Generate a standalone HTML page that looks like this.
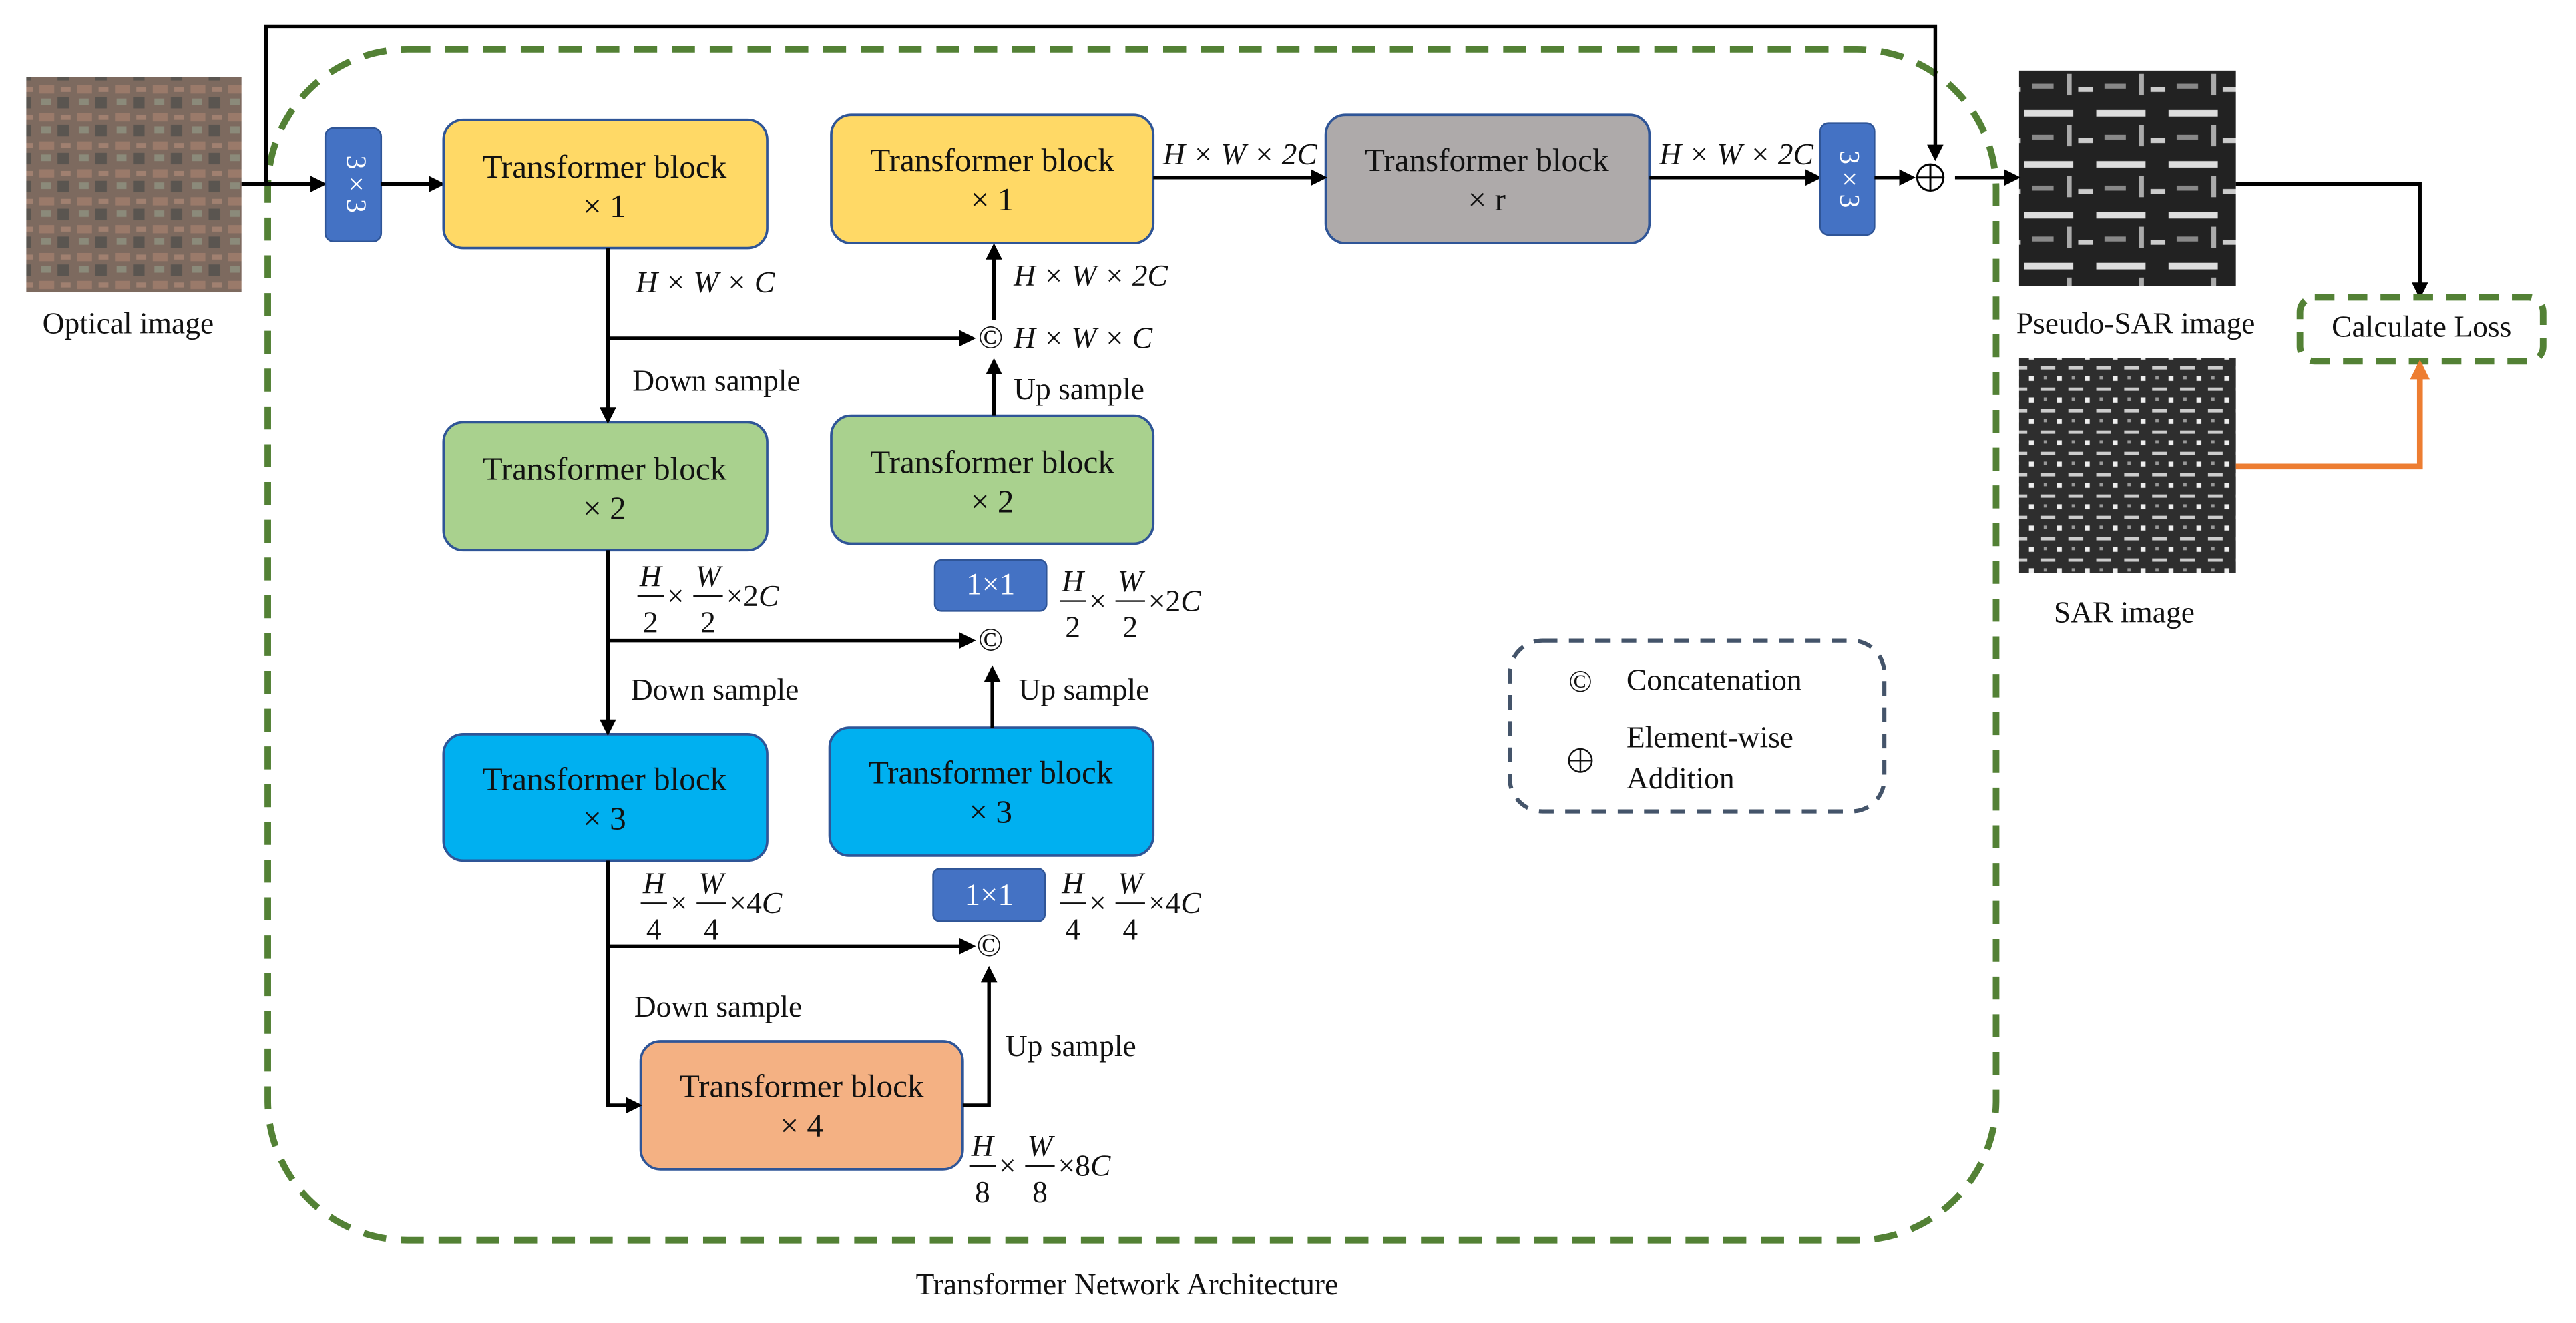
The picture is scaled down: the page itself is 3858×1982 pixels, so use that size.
<!DOCTYPE html>
<html><head><meta charset="utf-8"><style>
html,body{margin:0;padding:0;background:#fff}
svg{display:block;font-family:"Liberation Serif","DejaVu Serif",serif}
svg text{font-family:"Liberation Serif","DejaVu Serif",serif;fill:#111}
.t{font-size:20px;text-anchor:middle}
.l{font-size:18.5px}
.m{font-size:18.5px;font-style:italic}
.bx{stroke:#2F5597;stroke-width:1.5}
.ln{stroke:#000;stroke-width:2.2;fill:none}
</style></head><body>
<svg width="3858" height="1982" viewBox="0 0 1568 805.5" xmlns="http://www.w3.org/2000/svg" font-family="Liberation Serif, serif">
<defs>
<marker id="a" markerWidth="10" markerHeight="10" refX="8" refY="5" orient="auto" markerUnits="userSpaceOnUse"><path d="M0,0 L10,5 L0,10 z" fill="#000"/></marker>
<marker id="o" markerWidth="12" markerHeight="12" refX="9" refY="6" orient="auto" markerUnits="userSpaceOnUse"><path d="M0,0 L12,6 L0,12 z" fill="#ED7D31"/></marker>
<pattern id="opt" width="23" height="17" patternUnits="userSpaceOnUse"><rect width="23" height="17" fill="#7d6a5f"/><rect x="1" y="1" width="9" height="5" fill="#9a7a6a"/><rect x="12" y="8" width="7" height="7" fill="#5a5550"/><rect x="2" y="9" width="6" height="4" fill="#8b8a7a"/><rect x="14" y="2" width="6" height="3" fill="#a08070"/></pattern>
<pattern id="sar1" width="44" height="31" patternUnits="userSpaceOnUse"><rect width="44" height="31" fill="#222"/><rect x="0" y="5" width="30" height="4" fill="#ddd"/><rect x="26" y="14" width="3" height="13" fill="#aaa"/><rect x="5" y="20" width="13" height="3" fill="#888"/><rect x="33" y="22" width="9" height="3" fill="#ccc"/></pattern>
<pattern id="sar2" width="17" height="13" patternUnits="userSpaceOnUse"><rect width="17" height="13" fill="#2e2e2e"/><rect x="1" y="2" width="9" height="2" fill="#ccc"/><rect x="11" y="8" width="3" height="3" fill="#eee"/><rect x="3" y="8" width="2" height="2" fill="#999"/></pattern>
</defs>

<rect x="16" y="47" width="131" height="131" fill="url(#opt)"/>
<text class="l" x="78" y="203" text-anchor="middle">Optical image</text>
<rect x="1229" y="43" width="132" height="131" fill="url(#sar1)"/>
<text class="l" x="1300" y="203" text-anchor="middle">Pseudo-SAR image</text>
<rect x="1229" y="218" width="132" height="131" fill="url(#sar2)"/>
<text class="l" x="1293" y="379" text-anchor="middle">SAR image</text>

<rect x="163" y="30" width="1052" height="725" rx="85" fill="none" stroke="#538135" stroke-width="4" stroke-dasharray="14,9"/>
<text class="l" x="686" y="788" text-anchor="middle">Transformer Network Architecture</text>

<path class="ln" d="M162,112 V16 H1178 V96" marker-end="url(#a)"/>
<line class="ln" x1="147" y1="112" x2="197" y2="112" marker-end="url(#a)"/>

<rect x="198" y="78" width="34" height="69" rx="5" fill="#4472C4" stroke="#2F5597"/>
<text x="215" y="112" transform="rotate(90 215 112)" text-anchor="middle" dominant-baseline="middle" style="font-size:17px;fill:#fff">3 × 3</text>
<line class="ln" x1="232" y1="112" x2="269" y2="112" marker-end="url(#a)"/>

<rect class="bx" x="270" y="73" width="197" height="78" rx="12" fill="#FFD966"/>
<text class="t" x="368" y="108">Transformer block</text><text class="t" x="368" y="132">× 1</text>
<rect class="bx" x="270" y="257" width="197" height="78" rx="12" fill="#A9D18E"/>
<text class="t" x="368" y="292">Transformer block</text><text class="t" x="368" y="316">× 2</text>
<rect class="bx" x="270" y="447" width="197" height="77" rx="12" fill="#00B0F0"/>
<text class="t" x="368" y="481">Transformer block</text><text class="t" x="368" y="505">× 3</text>
<rect class="bx" x="390" y="634" width="196" height="78" rx="12" fill="#F4B183"/>
<text class="t" x="488" y="668">Transformer block</text><text class="t" x="488" y="692">× 4</text>

<rect class="bx" x="506" y="70" width="196" height="78" rx="12" fill="#FFD966"/>
<text class="t" x="604" y="104">Transformer block</text><text class="t" x="604" y="128">× 1</text>
<rect class="bx" x="506" y="253" width="196" height="78" rx="12" fill="#A9D18E"/>
<text class="t" x="604" y="288">Transformer block</text><text class="t" x="604" y="312">× 2</text>
<rect class="bx" x="505" y="443" width="197" height="78" rx="12" fill="#00B0F0"/>
<text class="t" x="603" y="477">Transformer block</text><text class="t" x="603" y="501">× 3</text>
<rect class="bx" x="807" y="70" width="197" height="78" rx="12" fill="#AEAAAA"/>
<text class="t" x="905" y="104">Transformer block</text><text class="t" x="905" y="128">× r</text>

<line class="ln" x1="370" y1="151" x2="370" y2="256" marker-end="url(#a)"/>
<line class="ln" x1="370" y1="335" x2="370" y2="446" marker-end="url(#a)"/>
<path class="ln" d="M370,524 V673 H389" marker-end="url(#a)"/>

<line class="ln" x1="370" y1="206" x2="592" y2="206" marker-end="url(#a)"/>
<line class="ln" x1="370" y1="390" x2="592" y2="390" marker-end="url(#a)"/>
<line class="ln" x1="370" y1="576" x2="592" y2="576" marker-end="url(#a)"/>
<text x="603" y="212" text-anchor="middle" style="font-size:20px">©</text>
<text x="603" y="396" text-anchor="middle" style="font-size:20px">©</text>
<text x="602" y="582" text-anchor="middle" style="font-size:20px">©</text>

<line class="ln" x1="605" y1="195" x2="605" y2="150" marker-end="url(#a)"/>
<line class="ln" x1="605" y1="253" x2="605" y2="220" marker-end="url(#a)"/>
<line class="ln" x1="604" y1="443" x2="604" y2="407" marker-end="url(#a)"/>
<path class="ln" d="M586,673 H602 V590" marker-end="url(#a)"/>

<line class="ln" x1="702" y1="108" x2="806" y2="108" marker-end="url(#a)"/>
<line class="ln" x1="1004" y1="108" x2="1107" y2="108" marker-end="url(#a)"/>
<rect x="1108" y="75" width="33" height="68" rx="5" fill="#4472C4" stroke="#2F5597"/>
<text x="1124" y="109" transform="rotate(90 1124 109)" text-anchor="middle" dominant-baseline="middle" style="font-size:17px;fill:#fff">3 × 3</text>
<line class="ln" x1="1141" y1="108" x2="1164" y2="108" marker-end="url(#a)"/>
<circle cx="1175" cy="108" r="8" fill="none" stroke="#000" stroke-width="1.2"/>
<line x1="1167" y1="108" x2="1183" y2="108" stroke="#000" stroke-width="1.2"/>
<line x1="1175" y1="100" x2="1175" y2="116" stroke="#000" stroke-width="1.2"/>
<line class="ln" x1="1190" y1="108" x2="1228" y2="108" marker-end="url(#a)"/>

<path class="ln" d="M1361,112 H1473 V180" marker-end="url(#a)"/>
<rect x="1400" y="181" width="148" height="39" rx="9" fill="none" stroke="#538135" stroke-width="4" stroke-dasharray="12,8"/>
<text class="l" x="1474" y="205" text-anchor="middle">Calculate Loss</text>
<path d="M1361,284 H1473 V222" fill="none" stroke="#ED7D31" stroke-width="3.5" marker-end="url(#o)"/>

<rect x="569" y="341" width="68" height="31" rx="4" fill="#4472C4" stroke="#2F5597"/>
<text x="603" y="362" text-anchor="middle" style="font-size:19px;fill:#fff">1×1</text>
<rect x="568" y="529" width="68" height="32" rx="4" fill="#4472C4" stroke="#2F5597"/>
<text x="602" y="551" text-anchor="middle" style="font-size:19px;fill:#fff">1×1</text>

<text class="m" x="387" y="178">H × W × C</text>
<text class="m" x="617" y="212">H × W × C</text>
<text class="m" x="617" y="174">H × W × 2C</text>
<text class="m" x="708" y="100">H × W × 2C</text>
<text class="m" x="1010" y="100">H × W × 2C</text>
<text class="l" x="385" y="238">Down sample</text>
<text class="l" x="617" y="243">Up sample</text>
<text class="l" x="384" y="426">Down sample</text>
<text class="l" x="620" y="426">Up sample</text>
<text class="l" x="386" y="619">Down sample</text>
<text class="l" x="612" y="643">Up sample</text>

<g transform="translate(388,345)">
<text class="m" x="8" y="12" text-anchor="middle">H</text><line x1="0" y1="18" x2="16" y2="18" stroke="#111" stroke-width="1"/><text class="l" x="8" y="40" text-anchor="middle">2</text>
<text class="l" x="18" y="24">×</text>
<text class="m" x="43" y="12" text-anchor="middle">W</text><line x1="34" y1="18" x2="52" y2="18" stroke="#111" stroke-width="1"/><text class="l" x="43" y="40" text-anchor="middle">2</text>
<text class="l" x="54" y="24">×2<tspan font-style="italic">C</tspan></text></g>
<g transform="translate(645,348)">
<text class="m" x="8" y="12" text-anchor="middle">H</text><line x1="0" y1="18" x2="16" y2="18" stroke="#111" stroke-width="1"/><text class="l" x="8" y="40" text-anchor="middle">2</text>
<text class="l" x="18" y="24">×</text>
<text class="m" x="43" y="12" text-anchor="middle">W</text><line x1="34" y1="18" x2="52" y2="18" stroke="#111" stroke-width="1"/><text class="l" x="43" y="40" text-anchor="middle">2</text>
<text class="l" x="54" y="24">×2<tspan font-style="italic">C</tspan></text></g>
<g transform="translate(390,532)">
<text class="m" x="8" y="12" text-anchor="middle">H</text><line x1="0" y1="18" x2="16" y2="18" stroke="#111" stroke-width="1"/><text class="l" x="8" y="40" text-anchor="middle">4</text>
<text class="l" x="18" y="24">×</text>
<text class="m" x="43" y="12" text-anchor="middle">W</text><line x1="34" y1="18" x2="52" y2="18" stroke="#111" stroke-width="1"/><text class="l" x="43" y="40" text-anchor="middle">4</text>
<text class="l" x="54" y="24">×4<tspan font-style="italic">C</tspan></text></g>
<g transform="translate(645,532)">
<text class="m" x="8" y="12" text-anchor="middle">H</text><line x1="0" y1="18" x2="16" y2="18" stroke="#111" stroke-width="1"/><text class="l" x="8" y="40" text-anchor="middle">4</text>
<text class="l" x="18" y="24">×</text>
<text class="m" x="43" y="12" text-anchor="middle">W</text><line x1="34" y1="18" x2="52" y2="18" stroke="#111" stroke-width="1"/><text class="l" x="43" y="40" text-anchor="middle">4</text>
<text class="l" x="54" y="24">×4<tspan font-style="italic">C</tspan></text></g>
<g transform="translate(590,692)">
<text class="m" x="8" y="12" text-anchor="middle">H</text><line x1="0" y1="18" x2="16" y2="18" stroke="#111" stroke-width="1"/><text class="l" x="8" y="40" text-anchor="middle">8</text>
<text class="l" x="18" y="24">×</text>
<text class="m" x="43" y="12" text-anchor="middle">W</text><line x1="34" y1="18" x2="52" y2="18" stroke="#111" stroke-width="1"/><text class="l" x="43" y="40" text-anchor="middle">8</text>
<text class="l" x="54" y="24">×8<tspan font-style="italic">C</tspan></text></g>

<rect x="919" y="390" width="228" height="104" rx="20" fill="none" stroke="#44546A" stroke-width="2.5" stroke-dasharray="9,7"/>
<text x="962" y="421" text-anchor="middle" style="font-size:19px">©</text>
<text class="l" x="990" y="420">Concatenation</text>
<circle cx="962" cy="463" r="7" fill="none" stroke="#111" stroke-width="1"/>
<line x1="955" y1="463" x2="969" y2="463" stroke="#111" stroke-width="1"/>
<line x1="962" y1="456" x2="962" y2="470" stroke="#111" stroke-width="1"/>
<text class="l" x="990" y="455">Element-wise</text>
<text class="l" x="990" y="480">Addition</text>
</svg>
</body></html>
